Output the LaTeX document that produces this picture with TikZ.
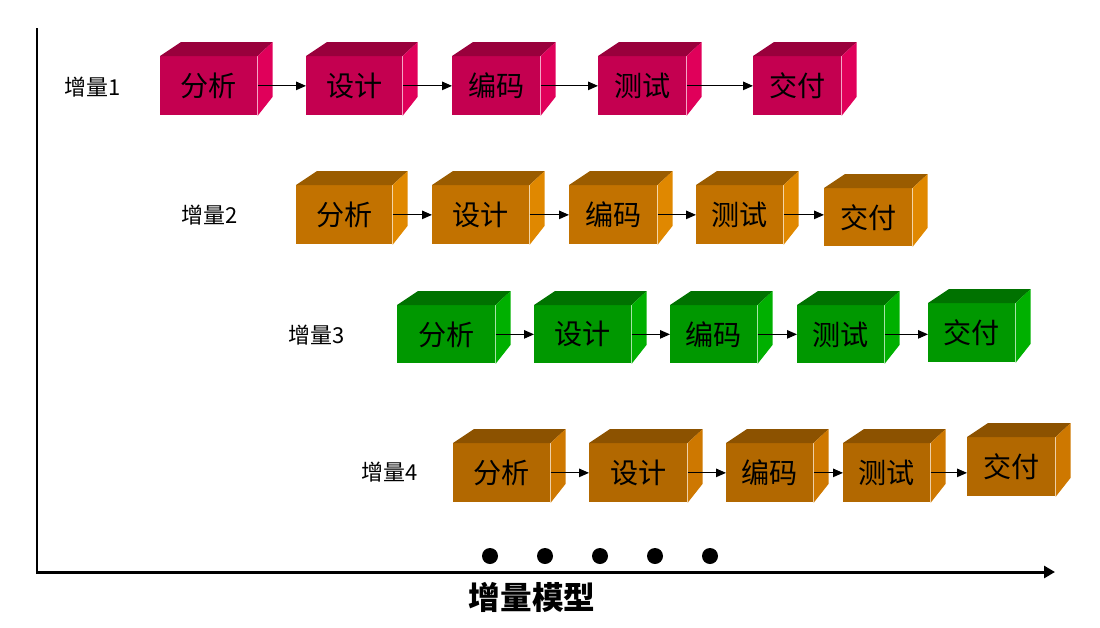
\documentclass[tikz,border=0pt]{standalone}
\usepackage{fontspec}
\usepackage{xcolor}
\usepackage{tikz}
\usetikzlibrary{arrows.meta,positioning}
\newfontfamily\cjk{Noto Sans CJK SC}
\definecolor{cubeRed}{RGB}{196,0,80}
\definecolor{cubeRedTop}{RGB}{153,0,60}
\definecolor{cubeRedSide}{RGB}{224,0,90}
\definecolor{cubeOrange}{RGB}{194,114,0}
\definecolor{cubeOrangeTop}{RGB}{154,92,0}
\definecolor{cubeOrangeSide}{RGB}{224,136,0}
\definecolor{cubeGreen}{RGB}{0,152,0}
\definecolor{cubeGreenTop}{RGB}{0,114,0}
\definecolor{cubeGreenSide}{RGB}{0,176,0}
\definecolor{cubeBrown}{RGB}{178,104,0}
\definecolor{cubeBrownTop}{RGB}{140,82,0}
\definecolor{cubeBrownSide}{RGB}{206,120,0}
% top and side faces of a block, from the anchors of its front node
\newcommand{\faces}[2]{%
  \fill[#2Top] (#1.north west) -- ([shift={(21,-14)}]#1.north west)
    -- ([shift={(15,-14)}]#1.north east) -- (#1.north east) -- cycle;
  \fill[#2Side] (#1.north east) -- ([shift={(15,-14)}]#1.north east)
    -- ([shift={(15,-19)}]#1.south east) -- (#1.south east) -- cycle;}

\begin{document}
\begin{tikzpicture}[x=0.02cm, y=-0.02cm, font=\cjk,
  bloc/.style={anchor=north west, inner sep=0pt, minimum height=59*0.02cm,
               font=\cjk\fontsize{16}{16}\selectfont},
  etiquette/.style={font=\cjk\fontsize{12.5}{13}\selectfont},
  fleche/.style={-{Triangle[length=0.2cm,width=0.17cm]}, line width=0.6pt},
  axe/.style={-{Triangle[length=0.22cm,width=0.24cm]}, line width=1.7pt}]

\useasboundingbox (0,0) rectangle (1100,627);

% axes
\coordinate (haut) at (37,28);
\coordinate (origine) at (37,572);
\coordinate (droite) at (1055,572);
\draw[axe] (haut) -- (origine) -- (droite);

% increment 1
\node[etiquette] (l1) at (93,87) {增量1};
\node[bloc, fill=cubeRed, minimum width=97*0.02cm] (a1) at (160,56) {分析};
\node[bloc, fill=cubeRed, minimum width=96*0.02cm] (a2) at (306,56) {设计};
\node[bloc, fill=cubeRed, minimum width=88*0.02cm] (a3) at (452,56) {编码};
\node[bloc, fill=cubeRed, minimum width=88*0.02cm] (a4) at (598,56) {测试};
\node[bloc, fill=cubeRed, minimum width=88*0.02cm] (a5) at (753,56) {交付};
\faces{a1}{cubeRed}\faces{a2}{cubeRed}\faces{a3}{cubeRed}
\faces{a4}{cubeRed}\faces{a5}{cubeRed}
\draw[fleche] (a1) -- (a2);
\draw[fleche] (a2) -- (a3);
\draw[fleche] (a3) -- (a4);
\draw[fleche] (a4) -- (a5);

% increment 2
\node[etiquette] (l2) at (210,215) {增量2};
\node[bloc, fill=cubeOrange, minimum width=96*0.02cm] (b1) at (296,185) {分析};
\node[bloc, fill=cubeOrange, minimum width=97*0.02cm] (b2) at (432,185) {设计};
\node[bloc, fill=cubeOrange, minimum width=88*0.02cm] (b3) at (569,185) {编码};
\node[bloc, fill=cubeOrange, minimum width=87*0.02cm] (b4) at (696,185) {测试};
\node[bloc, fill=cubeOrange, minimum width=88*0.02cm, minimum height=58*0.02cm] (b5) at (824,188) {交付};
\faces{b1}{cubeOrange}\faces{b2}{cubeOrange}\faces{b3}{cubeOrange}
\faces{b4}{cubeOrange}\faces{b5}{cubeOrange}
\draw[fleche] (b1) -- (b2);
\draw[fleche] (b2) -- (b3);
\draw[fleche] (b3) -- (b4);
\draw[fleche] (b4.east) -- (b4.east -| b5.west);

% increment 3
\node[etiquette] (l3) at (317,335) {增量3};
\node[bloc, fill=cubeGreen, minimum width=98*0.02cm, minimum height=58*0.02cm] (c1) at (397,305) {分析};
\node[bloc, fill=cubeGreen, minimum width=97*0.02cm, minimum height=58*0.02cm] (c2) at (534,305) {设计};
\node[bloc, fill=cubeGreen, minimum width=87*0.02cm, minimum height=58*0.02cm] (c3) at (670,305) {编码};
\node[bloc, fill=cubeGreen, minimum width=87*0.02cm, minimum height=58*0.02cm] (c4) at (797,305) {测试};
\node[bloc, fill=cubeGreen, minimum width=87*0.02cm] (c5) at (928,303) {交付};
\faces{c1}{cubeGreen}\faces{c2}{cubeGreen}\faces{c3}{cubeGreen}
\faces{c4}{cubeGreen}\faces{c5}{cubeGreen}
\draw[fleche] (c1) -- (c2);
\draw[fleche] (c2) -- (c3);
\draw[fleche] (c3) -- (c4);
\draw[fleche] (c4.east) -- (c4.east -| c5.west);

% increment 4
\node[etiquette] (l4) at (390,472) {增量4};
\node[bloc, fill=cubeBrown, minimum width=97*0.02cm] (d1) at (453,443) {分析};
\node[bloc, fill=cubeBrown, minimum width=98*0.02cm] (d2) at (589,443) {设计};
\node[bloc, fill=cubeBrown, minimum width=87*0.02cm] (d3) at (726,443) {编码};
\node[bloc, fill=cubeBrown, minimum width=87*0.02cm] (d4) at (843,443) {测试};
\node[bloc, fill=cubeBrown, minimum width=88*0.02cm] (d5) at (967,437) {交付};
\faces{d1}{cubeBrown}\faces{d2}{cubeBrown}\faces{d3}{cubeBrown}
\faces{d4}{cubeBrown}\faces{d5}{cubeBrown}
\draw[fleche] (d1) -- (d2);
\draw[fleche] (d2) -- (d3);
\draw[fleche] (d3) -- (d4);
\draw[fleche] (d4.east) -- (d4.east -| d5.west);

% dots
\fill (490,556) circle (8);
\fill (545,556) circle (8);
\fill (600,556) circle (8);
\fill (655,556) circle (8);
\fill (710,556) circle (8);

\node[font=\cjk\bfseries\fontsize{18}{18}\selectfont] (titre) at (532,597) {增量模型};

\end{tikzpicture}
\end{document}
